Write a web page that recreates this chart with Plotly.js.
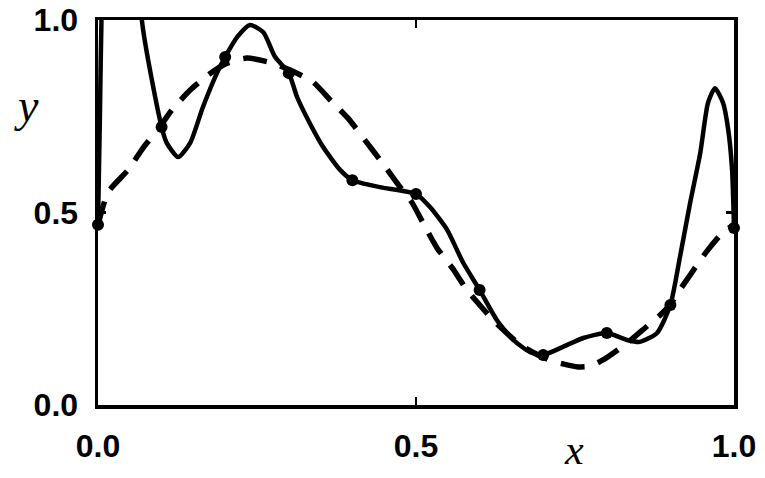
<!DOCTYPE html>
<html>
<head>
<meta charset="utf-8">
<script src="https://cdn.plot.ly/plotly-3.0.1.min.js"></script>
<style>html,body{margin:0;padding:0;background:#fff;}#chart{width:765px;height:478px;}</style>
</head>
<body>
<div id="chart"></div>
<script>
// Sample points (markers)
const sampleX = [0.0, 0.1, 0.2, 0.3, 0.4, 0.5, 0.6, 0.7, 0.8, 0.9, 1.0];
const sampleY = [0.468, 0.722, 0.904, 0.862, 0.584, 0.548, 0.299, 0.130, 0.187, 0.260, 0.460];

// Solid curve (above 1.0 it is clipped)
const solidX = [0.0, 0.003, 0.006, 0.02, 0.045, 0.062, 0.069, 0.1, 0.108, 0.126, 0.145, 0.165, 0.187, 0.2, 0.219, 0.239, 0.260, 0.278, 0.3, 0.313, 0.333, 0.354, 0.381, 0.4, 0.443, 0.5, 0.522, 0.549, 0.574, 0.6, 0.627, 0.653, 0.679, 0.7, 0.731, 0.763, 0.8, 0.832, 0.852, 0.879, 0.9, 0.915, 0.931, 0.947, 0.959, 0.970, 0.983, 0.991, 0.997, 1.0];
const solidY = [0.468, 0.75, 1.05, 1.7, 2.0, 1.5, 1.0, 0.722, 0.681, 0.644, 0.681, 0.774, 0.862, 0.904, 0.956, 0.987, 0.968, 0.905, 0.862, 0.80, 0.732, 0.670, 0.610, 0.584, 0.566, 0.548, 0.514, 0.455, 0.370, 0.299, 0.221, 0.169, 0.138, 0.130, 0.151, 0.174, 0.187, 0.169, 0.164, 0.187, 0.260, 0.384, 0.525, 0.655, 0.784, 0.823, 0.784, 0.714, 0.610, 0.460];

// Dashed curve
const dashX = [0.0, 0.016, 0.047, 0.071, 0.097, 0.116, 0.145, 0.173, 0.203, 0.234, 0.27, 0.302, 0.338, 0.368, 0.393, 0.423, 0.447, 0.470, 0.494, 0.511, 0.533, 0.557, 0.580, 0.600, 0.621, 0.664, 0.698, 0.719, 0.755, 0.774, 0.794, 0.832, 0.860, 0.884, 0.899, 0.915, 0.934, 0.959, 0.983, 1.0];
const dashY = [0.468, 0.553, 0.610, 0.668, 0.722, 0.766, 0.818, 0.857, 0.888, 0.901, 0.890, 0.870, 0.839, 0.787, 0.745, 0.681, 0.629, 0.577, 0.525, 0.473, 0.408, 0.356, 0.299, 0.260, 0.221, 0.156, 0.125, 0.112, 0.099, 0.101, 0.117, 0.161, 0.200, 0.234, 0.260, 0.299, 0.345, 0.403, 0.449, 0.468];

const tickVals = [0, 0.5, 1];
const tickText = ['0.0', '0.5', '1.0'];

const traces = [
  {x: dashX, y: dashY, mode: 'lines', line: {color: 'black', width: 5.5, dash: '24px,14px', shape: 'spline', smoothing: 0.6}, hoverinfo: 'skip'},
  {x: solidX, y: solidY, mode: 'lines', line: {color: 'black', width: 4.5, shape: 'spline', smoothing: 0.6}, hoverinfo: 'skip'},
  {x: sampleX, y: sampleY, mode: 'markers', marker: {color: 'black', size: 12}, cliponaxis: false, hoverinfo: 'skip'}
];

const axisCommon = {
  range: [0, 1],
  showgrid: false,
  zeroline: false,
  showline: true,
  linecolor: 'black',
  linewidth: 3.5,
  mirror: 'ticks',
  ticks: 'inside',
  ticklen: 8,
  tickwidth: 2.5,
  tickcolor: 'black',
  tickvals: tickVals,
  ticktext: tickText,
  tickfont: {family: 'Liberation Sans, Arial, sans-serif', size: 32, weight: 'bold', color: 'black'},
  fixedrange: true
};

const layout = {
  width: 765,
  height: 478,
  margin: {l: 98, r: 31, t: 20, b: 73},
  paper_bgcolor: 'white',
  plot_bgcolor: 'white',
  showlegend: false,
  xaxis: Object.assign({}, axisCommon, {ticklabelstandoff: 10}),
  yaxis: Object.assign({}, axisCommon, {ticklabelstandoff: 10}),
  annotations: [
    {text: 'x', xref: 'paper', yref: 'paper', x: (574 - 98) / 636, y: -(450 - 405) / 385, showarrow: false, xanchor: 'center', yanchor: 'middle', font: {family: 'Liberation Serif, Times New Roman, serif', size: 42, style: 'italic', color: 'black'}},
    {text: 'y', xref: 'paper', yref: 'paper', x: -(98 - 26) / 636, y: (405 - 106) / 385, showarrow: false, xanchor: 'center', yanchor: 'middle', font: {family: 'Liberation Serif, Times New Roman, serif', size: 46, style: 'italic', color: 'black'}}
  ]
};

Plotly.newPlot('chart', traces, layout, {displayModeBar: false, staticPlot: true});
</script>
</body>
</html>
